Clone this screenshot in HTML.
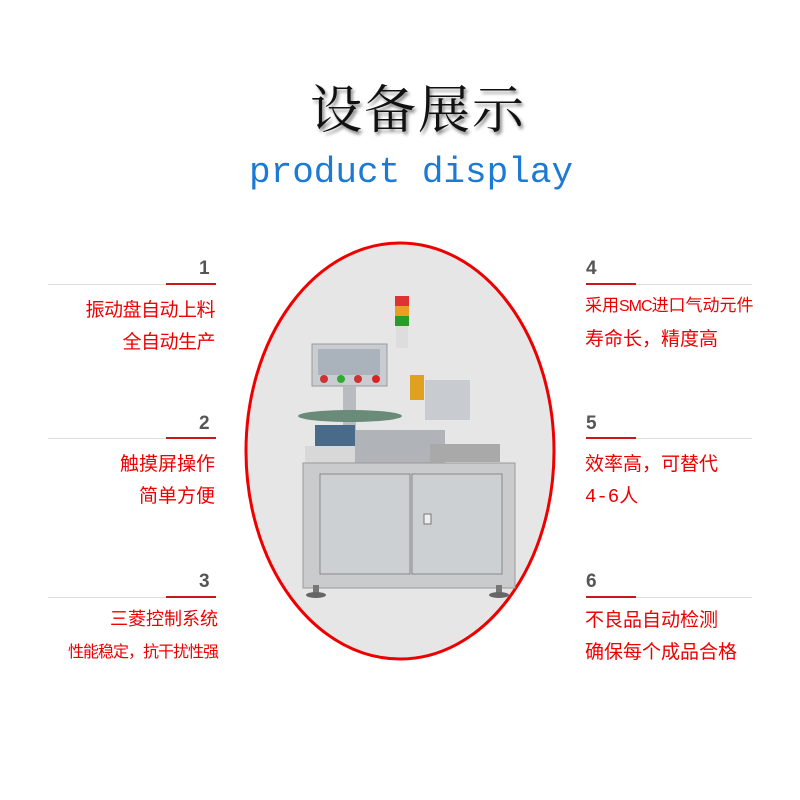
<!DOCTYPE html>
<html><head><meta charset="utf-8"><style>
body{margin:0;width:800px;height:800px;background:#fff;position:relative;overflow:hidden;font-family:"Liberation Sans","Noto Sans CJK SC",sans-serif}
.a{position:absolute}
.t{color:#e00;font-size:19px;line-height:32px;white-space:nowrap;font-family:"Liberation Mono","Noto Sans CJK SC",monospace}
.n{color:#555;font-weight:bold;font-size:19px}
.g{height:1px;background:#ddd}
.r{height:2px;background:#c8181e}
.s{font-family:"Liberation Sans Narrow","Liberation Sans",sans-serif;font-size:16px;letter-spacing:-1px}
</style></head><body>
<div class="a" style="left:310px;width:220px;top:68px;font-size:52px;font-family:'Noto Serif CJK SC',serif;color:#111;letter-spacing:2px;white-space:nowrap;text-shadow:2px 3px 3px #888">设备展示</div>
<div class="a" style="left:249px;top:152px;font-size:36px;font-family:'Liberation Mono',monospace;color:#1a7ad4;white-space:nowrap">product display</div>

<div class="a n" style="left:199px;top:258px">1</div>
<div class="a g" style="left:48px;top:284px;width:120px"></div><div class="a r" style="left:166px;top:283px;width:50px"></div>
<div class="a t" style="right:585px;top:295px;text-align:right;letter-spacing:-0.5px">振动盘自动上料<br>全自动生产</div>
<div class="a n" style="left:199px;top:413px">2</div>
<div class="a g" style="left:48px;top:438px;width:120px"></div><div class="a r" style="left:166px;top:437px;width:50px"></div>
<div class="a t" style="right:585px;top:449px;text-align:right">触摸屏操作<br>简单方便</div>
<div class="a n" style="left:199px;top:571px">3</div>
<div class="a g" style="left:48px;top:597px;width:120px"></div><div class="a r" style="left:166px;top:596px;width:50px"></div>
<div class="a t" style="right:582px;top:605px;text-align:right;font-size:18px">三菱控制系统<br><span style="font-size:16px;letter-spacing:-1px">性能稳定，抗干扰性强</span></div>

<div class="a n" style="left:586px;top:258px">4</div>
<div class="a r" style="left:586px;top:283px;width:50px"></div><div class="a g" style="left:636px;top:284px;width:116px"></div>
<div class="a t" style="left:585px;top:291px;font-size:17px">采用<span class="s">SMC</span>进口气动元件<br><span style="font-size:19px">寿命长，精度高</span></div>
<div class="a n" style="left:586px;top:413px">5</div>
<div class="a r" style="left:586px;top:437px;width:50px"></div><div class="a g" style="left:636px;top:438px;width:116px"></div>
<div class="a t" style="left:585px;top:449px">效率高，可替代<br>4-6人</div>
<div class="a n" style="left:586px;top:571px">6</div>
<div class="a r" style="left:586px;top:596px;width:50px"></div><div class="a g" style="left:636px;top:597px;width:116px"></div>
<div class="a t" style="left:585px;top:605px">不良品自动检测<br>确保每个成品合格</div>

<svg class="a" style="left:0;top:0" width="800" height="800">
<ellipse cx="400" cy="451" rx="154" ry="208" fill="#e6e6e6" stroke="#e00" stroke-width="3"/>
<rect x="395" y="296" width="14" height="10" fill="#d33"/><rect x="395" y="306" width="14" height="10" fill="#e9a020"/><rect x="395" y="316" width="14" height="10" fill="#2a9a2a"/><rect x="396" y="326" width="12" height="22" fill="#ddd"/>
<rect x="312" y="344" width="75" height="42" fill="#c9cdd2" stroke="#999"/><rect x="318" y="349" width="62" height="26" fill="#aab3bc"/>
<circle cx="324" cy="379" r="4" fill="#c33"/><circle cx="341" cy="379" r="4" fill="#3a3"/><circle cx="358" cy="379" r="4" fill="#c33"/><circle cx="376" cy="379" r="4" fill="#d22"/>
<rect x="343" y="386" width="13" height="60" fill="#b8bcc0"/>
<rect x="410" y="375" width="14" height="25" fill="#e0a020"/>
<rect x="425" y="380" width="45" height="40" fill="#c8ccd0"/>
<ellipse cx="350" cy="416" rx="52" ry="6" fill="#6a8a7a"/>
<rect x="315" y="425" width="40" height="40" fill="#4a6a8a"/>
<rect x="355" y="430" width="90" height="40" fill="#b0b4b8"/>
<rect x="430" y="444" width="70" height="18" fill="#a9a9a9"/>
<rect x="305" y="446" width="50" height="18" fill="#d8d8d8"/>
<rect x="303" y="463" width="212" height="125" fill="#c9cbcd" stroke="#999"/>
<rect x="320" y="474" width="90" height="100" fill="#cdd0d2" stroke="#888"/>
<rect x="412" y="474" width="90" height="100" fill="#cdd0d2" stroke="#888"/>
<rect x="424" y="514" width="7" height="10" fill="#eee" stroke="#777"/>
<rect x="313" y="585" width="6" height="10" fill="#777"/><rect x="496" y="585" width="6" height="10" fill="#777"/>
<ellipse cx="316" cy="595" rx="10" ry="3" fill="#666"/><ellipse cx="499" cy="595" rx="10" ry="3" fill="#666"/>
</svg>
</body></html>
